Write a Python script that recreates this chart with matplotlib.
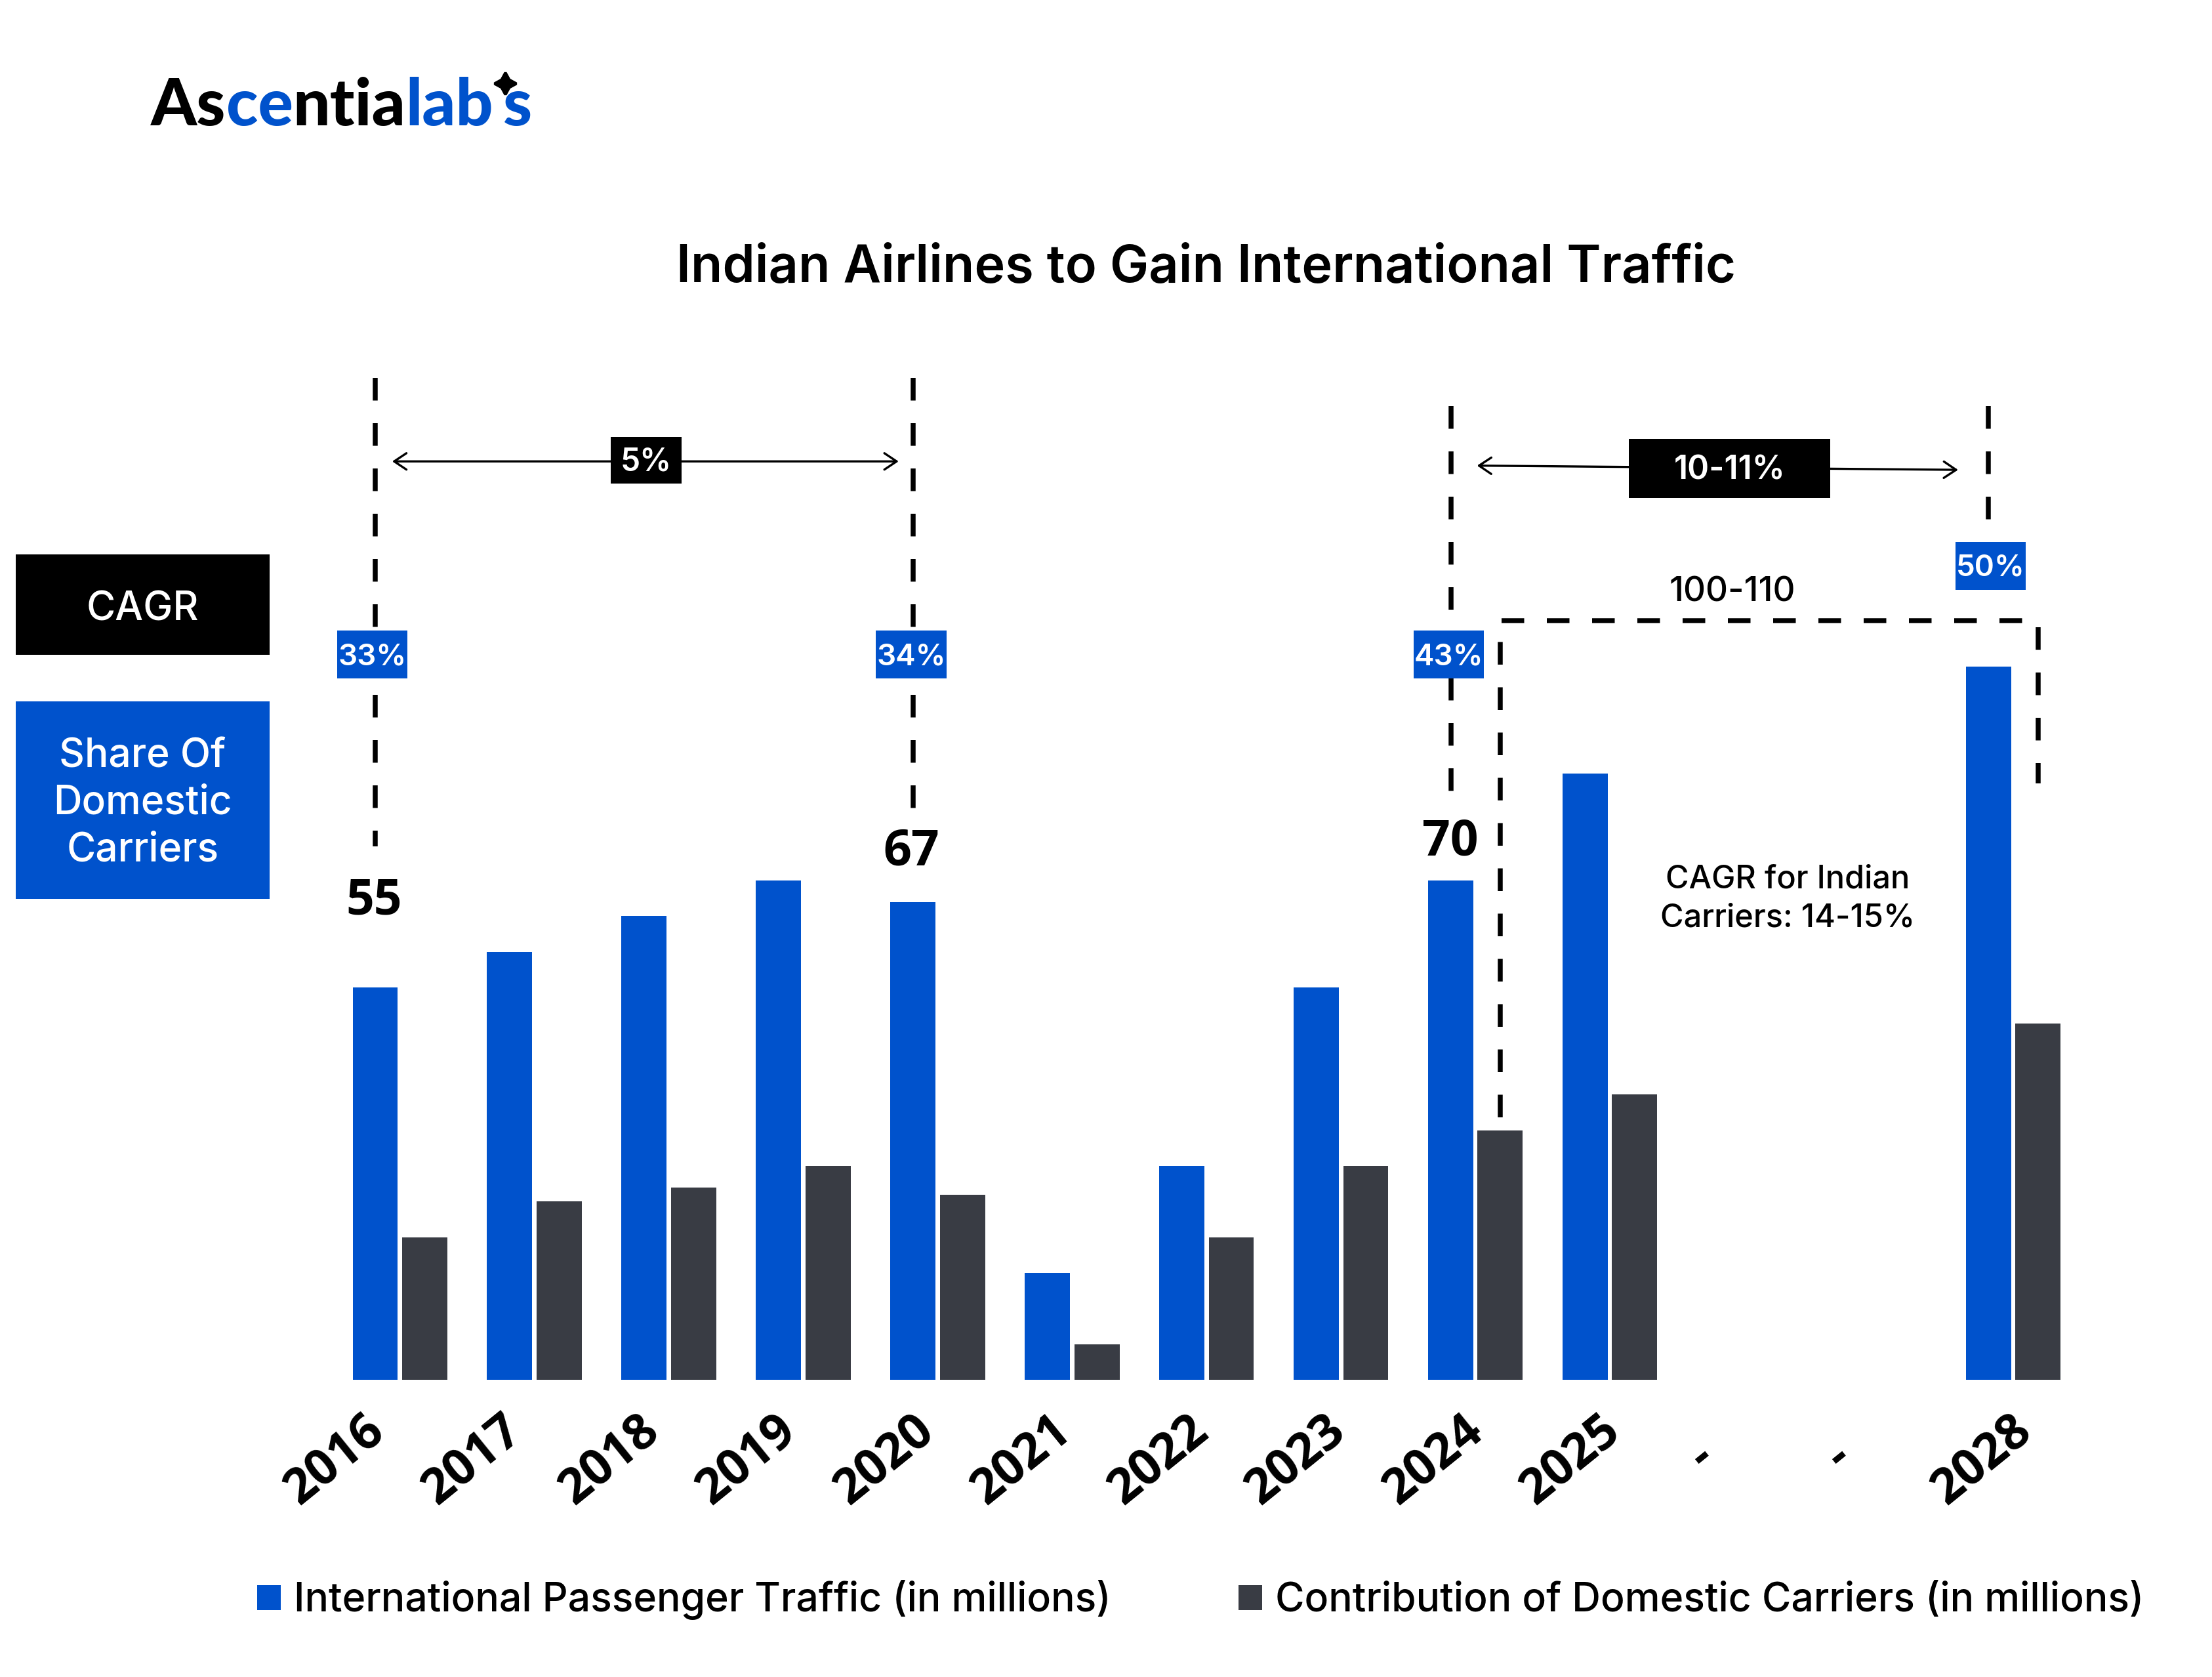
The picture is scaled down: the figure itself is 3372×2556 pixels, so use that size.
import numpy as np
import matplotlib
matplotlib.use("Agg")
import matplotlib.pyplot as plt
from matplotlib.patches import Rectangle
from matplotlib.transforms import ScaledTranslation

# ---------------- data ----------------
years = ['2016', '2017', '2018', '2019', '2020', '2021', '2022', '2023', '2024', '2025', '-', '-', '2028']
intl_traffic = [55, 60, 65, 70, 67, 15, 30, 55, 70, 85, np.nan, np.nan, 100]
domestic_contrib = [20, 25, 27, 30, 26, 5, 20, 30, 35, 40, np.nan, np.nan, 50]
share_idx = [0, 4, 8, 12]
share_labels = ['33%', '34%', '43%', '50%']
value_idx = [0, 4, 8]
cagr_labels = ['5%', '10-11%']
forecast_range = '100-110'
legend_labels = ['International Passenger Traffic (in millions)',
                 'Contribution of Domestic Carriers (in millions)']

BLUE = '#0052CC'
DARK = '#393C44'

W, H = 3372, 2556
fig = plt.figure(figsize=(W / 300, H / 300), dpi=300)
fig.patch.set_facecolor('white')

# reference layout measured on a 1568 x 1188.6 grid
GW, GH = 1568, 1568 * H / W
def F(x, y):
    return (x / GW, 1 - y / GH)

X0, STEP = 283.5, 95.3      # group centre of first category, category spacing
BASE, PPU = 978, 5.056       # baseline, grid px per unit
def dx(x):
    return (x - X0) / STEP
def dy(y):
    return (BASE - y) / PPU

ax = fig.add_axes([200 / GW, 1 - BASE / GH, (1480 - 200) / GW, (BASE - 260) / GH])
ax.set_xlim(dx(200), dx(1480))
ax.set_ylim(0, dy(260))
for s in ax.spines.values():
    s.set_visible(False)
ax.set_yticks([])

idx = np.arange(len(years))
off, bw = 0.184, 0.336
it = np.array(intl_traffic, dtype=float)
dc = np.array(domestic_contrib, dtype=float)
m = ~np.isnan(it)
b1 = ax.bar(idx[m] - off, it[m], width=bw, color=BLUE, zorder=2)
b2 = ax.bar(idx[m] + off, dc[m], width=bw, color=DARK, zorder=2)

# tick labels in the reference sit on a slightly wider pitch than the bars
ax.set_xticks(idx * 1.021)
ax.set_xticklabels(years, rotation=39, ha='right', rotation_mode='anchor',
                   fontsize=18, fontweight='bold', family='Open Sans')
ax.tick_params(axis='x', length=0, pad=9.5)
for lbl in ax.get_xticklabels():
    sx, sy = -13.5, 0
    if lbl.get_text() == '-':
        sx, sy = sx - 15.7, sy - 9.8
    lbl.set_transform(lbl.get_transform() + ScaledTranslation(sx / 72, sy / 72, fig.dpi_scale_trans))

# ---------------- dashed guide lines ----------------
dash = dict(color='black', lw=1.8, linestyle=(0, (4.6, 4.6)), zorder=3, clip_on=False)
ax.plot([idx[0] - off] * 2, [dy(268), dy(600)], **dash)
ax.plot([idx[4] - off] * 2, [dy(268), dy(575)], **dash)
ax.plot([idx[8] - off] * 2, [dy(288), dy(570)], **dash)
ax.plot([idx[12] - off] * 2, [dy(288), dy(375)], **dash)
ax.plot([idx[8] + off, idx[8] + off, idx[12] + off, idx[12] + off],
        [dy(792), dy(440), dy(440), dy(555)], **dash)

# ---------------- CAGR arrows ----------------
arr = dict(arrowstyle='<->,head_length=0.45,head_width=0.3', lw=0.8, color='black',
           shrinkA=0, shrinkB=0, mutation_scale=10)
ax.annotate('', xy=(dx(637), dy(327)), xytext=(dx(278), dy(327)), arrowprops=arr,
            annotation_clip=False)
ax.annotate('', xy=(dx(1388), dy(333)), xytext=(dx(1047), dy(330)), arrowprops=arr,
            annotation_clip=False)

def box(cx, cy, w, h, fc, text, fs, weight='semibold', ls=1.2, ty=1.5):
    r = Rectangle(F(cx - w / 2, cy + h / 2), w / GW, h / GH, transform=fig.transFigure,
                  facecolor=fc, edgecolor='none', zorder=6, clip_on=False)
    ax.add_patch(r)
    ax.text(*F(cx, cy + ty), text, transform=fig.transFigure, ha='center', va='center',
            color='white', fontsize=fs, fontweight=weight, family='Inter', zorder=7,
            linespacing=ls, clip_on=False)

box(458, 326, 50, 33, 'black', cagr_labels[0], 11.5)
box(1226, 332, 143, 42, 'black', cagr_labels[1], 12)

share_pos = [(264, 464), (646, 464), (1027, 464), (1411, 401)]
for (cx, cy), lab in zip(share_pos, share_labels):
    box(cx, cy, 50, 34, BLUE, lab, 11)

# value labels
val_pos = [(265, 639), (646, 604), (1028, 597)]
for (cx, cy), i in zip(val_pos, value_idx):
    ax.text(*F(cx, cy), f'{int(intl_traffic[i])}', transform=fig.transFigure, ha='center',
            va='center', fontsize=18, fontweight='bold', family='Open Sans', zorder=7)

ax.text(*F(1228, 420), forecast_range, transform=fig.transFigure, ha='center', va='center',
        fontsize=12.7, fontweight='medium', family='Inter')
ax.text(*F(1267, 637), 'CAGR for Indian\nCarriers: 14-15%', transform=fig.transFigure,
        ha='center', va='center', fontsize=11.7, fontweight='medium', family='Inter',
        linespacing=1.35)

# left side key boxes
box(101, 428.5, 180, 71, 'black', 'CAGR', 14.5, weight='medium', ty=3.5)
box(101, 567, 180, 140, BLUE, 'Share Of\nDomestic\nCarriers', 14.5, weight='medium',
    ls=1.3, ty=2.5)

# title
fig.text(*F(855, 190), 'Indian Airlines to Gain International Traffic', ha='center',
         va='center', fontsize=19, fontweight='semibold', family='Inter')

# logo
parts = [('As', 'black', 0), ('ce', BLUE, 0), ('ntia', 'black', 0), ('lab', BLUE, 0),
         ('s', BLUE, 3.5)]
prev = None
for txt, col, gap in parts:
    if prev is None:
        prev = ax.text(*F(107, 89), txt, transform=fig.transFigure, fontsize=24,
                       fontweight='black', family='Lato', color=col, ha='left',
                       va='baseline', clip_on=False)
    else:
        prev = ax.annotate(txt, xy=(1, 0), xycoords=prev, xytext=(gap, 0),
                           textcoords='offset points', ha='left', va='bottom',
                           fontsize=24, fontweight='black', family='Lato', color=col,
                           annotation_clip=False)
ax.plot([F(358, 59)[0]], [F(358, 59)[1]], transform=fig.transFigure, marker=(4, 1, 0),
        markersize=8, color='black', clip_on=False, zorder=8)

# legend
fig.legend([b1, b2], legend_labels, loc='center', bbox_to_anchor=F(851, 1134), ncol=2,
           frameon=False, prop=dict(family='Inter', weight='medium', size=14.55),
           handlelength=0.6, handleheight=0.6, handletextpad=0.33, columnspacing=3.2)

fig.savefig('out.png', dpi=300, facecolor='white')
